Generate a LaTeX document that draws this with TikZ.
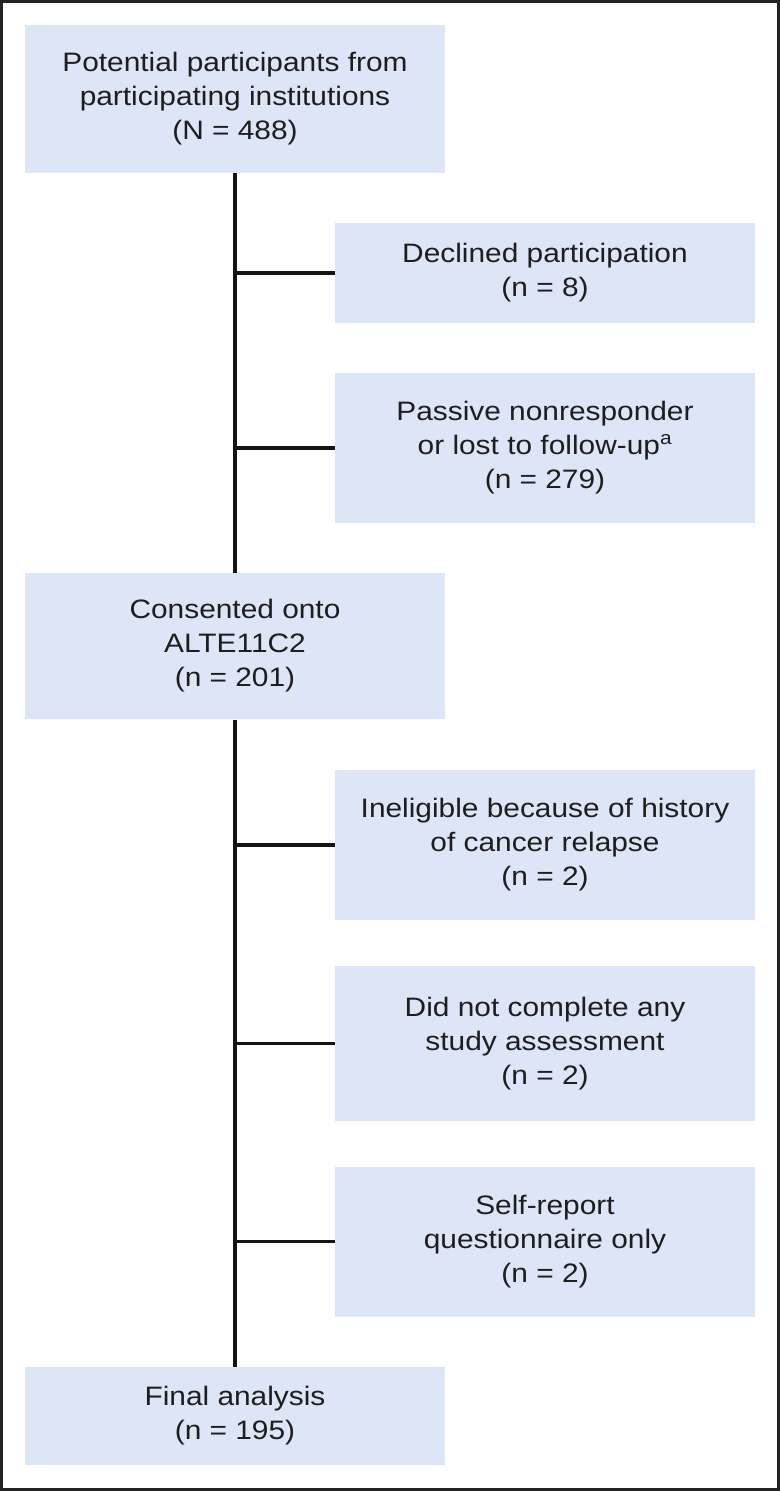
\documentclass[tikz,border=0pt]{standalone}
\usepackage{fontspec}
\setmainfont[FakeStretch=1.12]{Liberation Sans}
\usetikzlibrary{positioning}

\tikzset{every picture/.style={line width=0.75pt}}
\tikzset{
  flowbox/.style={fill={rgb, 255:red, 220; green, 230; blue, 247 }, draw=none, align=center, inner sep=0.75pt, font=\fontsize{20}{25.5}\selectfont, text={rgb, 255:red, 30; green, 30; blue, 30 }},
  mainbox/.style={flowbox, minimum width=315pt},
  sidebox/.style={flowbox, minimum width=315pt},
  trunk/.style={line width=3pt, color={rgb, 255:red, 20; green, 20; blue, 20 }},
  branch/.style={line width=2.6pt, color={rgb, 255:red, 20; green, 20; blue, 20 }}
}

\begin{document}
\begin{tikzpicture}[x=0.75pt,y=0.75pt,yscale=-1,xscale=1]
\useasboundingbox (0,0) rectangle (780,1491);

%Frame
\draw [line width=2.2pt, color={rgb, 255:red, 35; green, 35; blue, 35 }] (1.5,1.5) rectangle (778.5,1489.5);

% Main Nodes
\node (potential) at (235,99) [mainbox, minimum height=111pt] {Potential participants from\\participating institutions\\(N = 488)};
\node (consented) at (235,646) [mainbox, minimum height=109.5pt] {Consented onto\\ALTE11C2\\(n = 201)};
\node (final) at (235,1416) [mainbox, minimum height=73.5pt] {Final analysis\\(n = 195)};

% Side Nodes
\node (declined) at (545,273) [sidebox, minimum height=75pt] {Declined participation\\(n = 8)};
\node (passive) at (545,448) [sidebox, minimum height=112.5pt] {Passive nonresponder\\or lost to follow-up\textsuperscript{a}\\(n = 279)};
\node (ineligible) at (545,845) [sidebox, minimum height=112.5pt] {Ineligible because of history\\of cancer relapse\\(n = 2)};
\node (noassess) at (545,1043.5) [sidebox, minimum height=116pt] {Did not complete any\\study assessment\\(n = 2)};
\node (selfrep) at (545,1241.5) [sidebox, minimum height=112.5pt] {Self-report\\questionnaire only\\(n = 2)};

% Trunk Lines
\draw [trunk] (potential.south) -- (consented.north);
\draw [trunk] (consented.south) -- (final.north);

% Branch Lines
\draw [branch] (declined.west) -- (declined.west -| potential.south);
\draw [branch] (passive.west) -- (passive.west -| potential.south);
\draw [branch] (ineligible.west) -- (ineligible.west -| consented.south);
\draw [branch] (noassess.west) -- (noassess.west -| consented.south);
\draw [branch] (selfrep.west) -- (selfrep.west -| consented.south);

\end{tikzpicture}
\end{document}
